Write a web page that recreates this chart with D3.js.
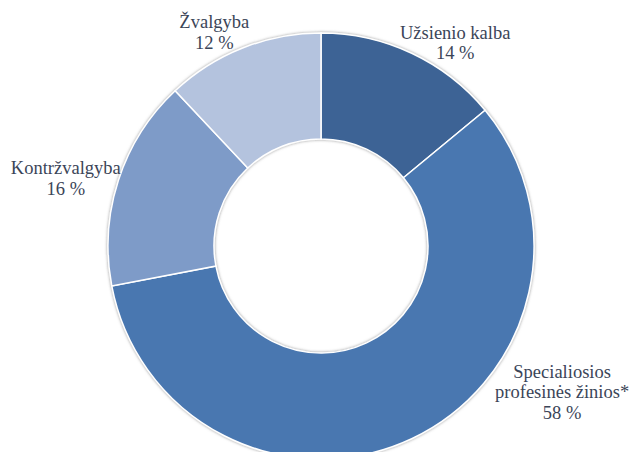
<!DOCTYPE html>
<html>
<head>
<meta charset="utf-8">
<script src="https://cdn.jsdelivr.net/npm/d3@7"></script>
<style>
  body { margin: 0; background: #fff; }
  svg { display: block; }
</style>
</head>
<body>
<svg width="629" height="452"></svg>
<script>
// data, clockwise from 12 o'clock
var categories = ["Užsienio kalba", "Specialiosios profesinės žinios*", "Kontržvalgyba", "Žvalgyba"];
var values = [14, 58, 16, 12];
var labelLines = [["Užsienio kalba"], ["Specialiosios", "profesinės žinios*"], ["Kontržvalgyba"], ["Žvalgyba"]];
var colors = ["#3d6495", "#4977b0", "#7e9bc8", "#b4c3de"];

var width = 629, height = 452,
    cx = 321, cy = 246,
    outerR = 213, innerR = 107;

// label nudges (angle in degrees, radius) - Excel "best fit" style
var labelPos = [
  {a: 34, r: 240},
  {a: 121.9, r: 284},
  {a: -76, r: 263},
  {a: -27, r: 235}
];

var svg = d3.select("svg");

var defs = svg.append("defs");
var f = defs.append("filter").attr("id", "glow")
    .attr("x", "-10%").attr("y", "-10%").attr("width", "120%").attr("height", "120%");
f.append("feDropShadow")
    .attr("dx", 0).attr("dy", 0)
    .attr("stdDeviation", 1.6)
    .attr("flood-color", "#777")
    .attr("flood-opacity", 0.75);

var g = svg.append("g").attr("transform", "translate(" + cx + "," + cy + ")");

var pie = d3.pie().sort(null).value(function(d) { return d; });
var arc = d3.arc().innerRadius(innerR).outerRadius(outerR);

var arcs = pie(values);

g.append("g")
    .attr("filter", "url(#glow)")
  .selectAll("path")
  .data(arcs)
  .enter().append("path")
    .attr("d", arc)
    .attr("fill", function(d, i) { return colors[i]; })
    .attr("stroke", "#fff")
    .attr("stroke-width", 1.5);

var labels = g.append("g")
  .selectAll("text")
  .data(arcs)
  .enter().append("text")
    .style("font-family", "Liberation Serif")
    .style("font-size", "18.5px")
    .attr("fill", "#3b4558")
    .attr("text-anchor", "middle")
    .attr("transform", function(d, i) {
      var p = labelPos[i], a = p.a * Math.PI / 180;
      var lines = labelLines[i].length + 1;
      var y = -Math.cos(a) * p.r - (lines - 1) * 20.5 / 2 + 2;
      return "translate(" + (Math.sin(a) * p.r) + "," + y + ")";
    });

labels.each(function(d, i) {
  var t = d3.select(this);
  var lines = labelLines[i].concat([values[i] + " %"]);
  lines.forEach(function(s, j) {
    t.append("tspan").attr("x", 0).attr("dy", j === 0 ? 0 : 20.5).text(s);
  });
});
</script>
</body>
</html>
